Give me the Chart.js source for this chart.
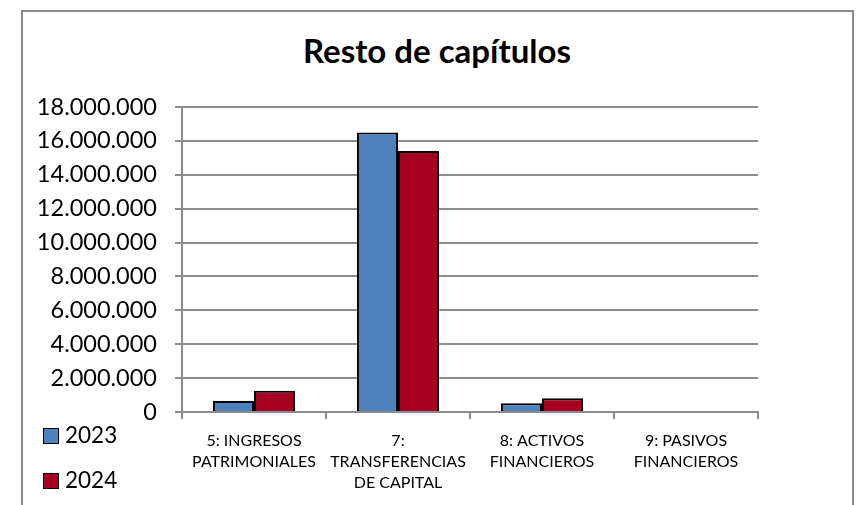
<!DOCTYPE html>
<html>
<head>
<meta charset="utf-8">
<script src="https://cdn.jsdelivr.net/npm/chart.js@4/dist/chart.umd.min.js"></script>
<style>
  html, body { margin: 0; padding: 0; background: #fff; }
  body { width: 861px; height: 505px; position: relative; overflow: hidden; font-family: Lato, sans-serif; }
  #frame { position: absolute; left: 21px; top: 10px; width: 829px; height: 600px; border: 2px solid #8c8c8c; pointer-events: none; }
  #title { position: absolute; left: 22px; width: 830px; top: 34px; text-align: center; font: bold 33px/1 Lato, sans-serif; color: #000; }
  #chart { position: absolute; left: 0; top: 0; }
  .leg { position: absolute; left: 43px; font: 22.5px/1 Lato, sans-serif; color: #000; }
  .leg span { display: inline-block; width: 14px; height: 14px; border: 1px solid #000; margin-right: 6px; vertical-align: -1px; }
</style>
</head>
<body>
<div id="frame"></div>
<div id="title">Resto de capítulos</div>
<canvas id="chart" width="861" height="505"></canvas>
<div class="leg" id="leg2023" style="top:424px"><span></span></div>
<div class="leg" id="leg2024" style="top:469px"><span></span></div>

<script>
// data
const categories = [
    ['5: INGRESOS', 'PATRIMONIALES'],
    ['7:', 'TRANSFERENCIAS', 'DE CAPITAL'],
    ['8: ACTIVOS', 'FINANCIEROS'],
    ['9: PASIVOS', 'FINANCIEROS']
];
const seriesNames = ['2023', '2024'];
const values2023 = [650000, 16490000, 510000, 0];
const values2024 = [1260000, 15410000, 810000, 0];
const yTicks = [0, 2000000, 4000000, 6000000, 8000000, 10000000, 12000000, 14000000, 16000000, 18000000];

const colors = ['#4f81bd', '#a50021'];
const gridColor = '#8c8c8c';

function fmt(v){
    return String(v).replace(/\B(?=(\d{3})+(?!\d))/g, '.');
}

// html legend
[ 'leg2023', 'leg2024' ].forEach((id, i) => {
    const el = document.getElementById(id);
    el.querySelector('span').style.background = colors[i];
    el.appendChild(document.createTextNode(seriesNames[i]));
});

new Chart(document.getElementById('chart'), {
    type: 'bar',
    data: {
        labels: categories,
        datasets: [{
            label: seriesNames[0],
            data: values2023,
            backgroundColor: colors[0],
            borderColor: '#000',
            borderWidth: 2,
            categoryPercentage: 0.57,
            barPercentage: 1.0
        }, {
            label: seriesNames[1],
            data: values2024,
            backgroundColor: colors[1],
            borderColor: '#000',
            borderWidth: 2,
            categoryPercentage: 0.57,
            barPercentage: 1.0
        }]
    },
    options: {
        responsive: false,
        animation: false,
        layout: {
            padding: { top: 107, left: 22, right: 103, bottom: 0 }
        },
        plugins: {
            legend: { display: false },
            title: { display: false },
            tooltip: { enabled: false }
        },
        scales: {
            x: {
                afterFit: (scale) => { scale.height = 93; },
                grid: {
                    offset: true,
                    drawOnChartArea: false,
                    color: gridColor,
                    lineWidth: 2,
                    tickLength: 7
                },
                border: { color: gridColor, width: 2 },
                ticks: {
                    color: '#000',
                    font: { family: 'Lato', size: 16, lineHeight: 1.32 },
                    padding: 11,
                    maxRotation: 0,
                    autoSkip: false
                }
            },
            y: {
                min: 0,
                max: 18000000,
                afterFit: (scale) => { scale.width = 160; },
                afterBuildTicks: (scale) => { scale.ticks = yTicks.map(v => ({ value: v })); },
                grid: {
                    color: gridColor,
                    lineWidth: 2,
                    tickLength: 7
                },
                border: { color: gridColor, width: 2 },
                ticks: {
                    color: '#000',
                    font: { family: 'Lato', size: 23.5 },
                    padding: 18,
                    callback: (v) => fmt(v)
                }
            }
        }
    }
});
</script>
</body>
</html>
